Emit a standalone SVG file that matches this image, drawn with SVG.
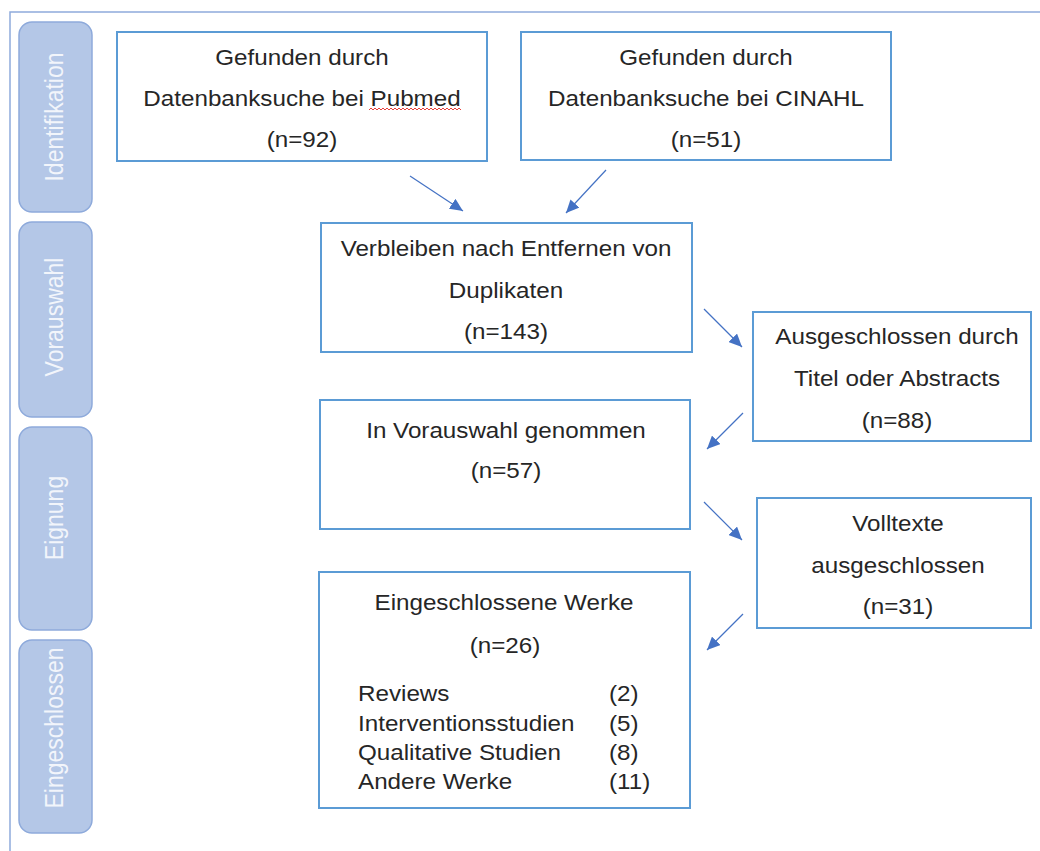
<svg xmlns="http://www.w3.org/2000/svg" width="1040" height="851" viewBox="0 0 1040 851">
<style>
.frame{fill:none;stroke:#8faadc;stroke-width:1.5}
.side{fill:#b4c7e7;stroke:#8eaadb;stroke-width:1.5}
.sidet{font-family:"Liberation Sans",Arial,sans-serif;font-size:23px;fill:#f2f5fb;text-anchor:middle}
.box{fill:#ffffff;stroke:#5b9bd5;stroke-width:2}
.t{font-family:"Liberation Sans",Arial,sans-serif;font-size:22px;fill:#262626;text-anchor:middle}
.l{font-family:"Liberation Sans",Arial,sans-serif;font-size:22px;fill:#262626;text-anchor:start}
.arr{stroke:#4472c4;stroke-width:1.2;fill:none;marker-end:url(#ah)}
</style>
<defs>
<marker id="ah" markerUnits="userSpaceOnUse" markerWidth="14" markerHeight="12" refX="13" refY="6" orient="auto">
<path d="M0,0 L13,6 L0,12 z" fill="#4472c4"/>
</marker>
</defs>
<rect width="1040" height="851" fill="#ffffff"/>
<path class="frame" d="M1040,12 H10 V851"/>

<g id="phase-identifikation">
<rect class="side" x="19" y="22" width="73" height="190" rx="13"/>
<text class="sidet" transform="translate(63,117) scale(1.1,1) rotate(-90)">Identifikation</text>
</g>
<g id="phase-vorauswahl">
<rect class="side" x="19" y="222" width="73" height="195" rx="13"/>
<text class="sidet" transform="translate(63,317) scale(1.1,1) rotate(-90)">Vorauswahl</text>
</g>
<g id="phase-eignung">
<rect class="side" x="19" y="427" width="73" height="203" rx="13"/>
<text class="sidet" transform="translate(63,518) scale(1.1,1) rotate(-90)">Eignung</text>
</g>
<g id="phase-eingeschlossen">
<rect class="side" x="19" y="640" width="73" height="193" rx="13"/>
<text class="sidet" transform="translate(63,728) scale(1.1,1) rotate(-90)">Eingeschlossen</text>
</g>

<g id="pubmed">
<rect class="box" x="117" y="32" width="370" height="129"/>
<text class="t" transform="translate(302,65) scale(1.1,1)">Gefunden durch</text>
<text class="t" transform="translate(302,106) scale(1.1,1)">Datenbanksuche bei Pubmed</text>
<path d="M369,110 l2,-2 l2,2 l2,-2 l2,2 l2,-2 l2,2 l2,-2 l2,2 l2,-2 l2,2 l2,-2 l2,2 l2,-2 l2,2 l2,-2 l2,2 l2,-2 l2,2 l2,-2 l2,2 l2,-2 l2,2 l2,-2 l2,2 l2,-2 l2,2 l2,-2 l2,2 l2,-2 l2,2 l2,-2 l2,2 l2,-2 l2,2 l2,-2 l2,2 l2,-2 l2,2 l2,-2 l2,2 l2,-2 l2,2 l2,-2 l2,2 l2,-2 l2,2" fill="none" stroke="#e8403a" stroke-width="1"/>
<text class="t" transform="translate(302,147) scale(1.1,1)">(n=92)</text>
</g>

<g id="cinahl">
<rect class="box" x="521" y="32" width="370" height="128"/>
<text class="t" transform="translate(706,65) scale(1.1,1)">Gefunden durch</text>
<text class="t" transform="translate(706,106) scale(1.1,1)">Datenbanksuche bei CINAHL</text>
<text class="t" transform="translate(706,147) scale(1.1,1)">(n=51)</text>
</g>

<g id="duplikate">
<rect class="box" x="321" y="223" width="371" height="129"/>
<text class="t" transform="translate(506,256) scale(1.1,1)">Verbleiben nach Entfernen von</text>
<text class="t" transform="translate(506,298) scale(1.1,1)">Duplikaten</text>
<text class="t" transform="translate(506,339) scale(1.1,1)">(n=143)</text>
</g>

<g id="ausgeschlossen-titel">
<rect class="box" x="753" y="312" width="278" height="129"/>
<text class="t" transform="translate(897,344) scale(1.1,1)">Ausgeschlossen durch</text>
<text class="t" transform="translate(897,386) scale(1.1,1)">Titel oder Abstracts</text>
<text class="t" transform="translate(897,428) scale(1.1,1)">(n=88)</text>
</g>

<g id="vorauswahl">
<rect class="box" x="320" y="400" width="370" height="129"/>
<text class="t" transform="translate(506,438) scale(1.1,1)">In Vorauswahl genommen</text>
<text class="t" transform="translate(506,478) scale(1.1,1)">(n=57)</text>
</g>

<g id="volltexte">
<rect class="box" x="757" y="498" width="274" height="130"/>
<text class="t" transform="translate(898,531) scale(1.1,1)">Volltexte</text>
<text class="t" transform="translate(898,573) scale(1.1,1)">ausgeschlossen</text>
<text class="t" transform="translate(898,614) scale(1.1,1)">(n=31)</text>
</g>

<g id="eingeschlossen">
<rect class="box" x="319" y="572" width="371" height="236"/>
<text class="t" transform="translate(504,610) scale(1.1,1)">Eingeschlossene Werke</text>
<text class="t" transform="translate(505,653) scale(1.1,1)">(n=26)</text>
<text class="l" transform="translate(358,701) scale(1.1,1)">Reviews</text>
<text class="l" transform="translate(609,701) scale(1.1,1)">(2)</text>
<text class="l" transform="translate(358,731) scale(1.1,1)">Interventionsstudien</text>
<text class="l" transform="translate(609,731) scale(1.1,1)">(5)</text>
<text class="l" transform="translate(358,760) scale(1.1,1)">Qualitative Studien</text>
<text class="l" transform="translate(609,760) scale(1.1,1)">(8)</text>
<text class="l" transform="translate(358,789) scale(1.1,1)">Andere Werke</text>
<text class="l" transform="translate(609,789) scale(1.1,1)">(11)</text>
</g>

<g id="connectors">
<line class="arr" x1="410" y1="176" x2="463" y2="211"/>
<line class="arr" x1="606" y1="170" x2="566" y2="213"/>
<line class="arr" x1="704" y1="309" x2="742" y2="347"/>
<line class="arr" x1="743" y1="413" x2="707" y2="449"/>
<line class="arr" x1="704" y1="502" x2="742" y2="540"/>
<line class="arr" x1="743" y1="614" x2="707" y2="650"/>
</g>
</svg>
